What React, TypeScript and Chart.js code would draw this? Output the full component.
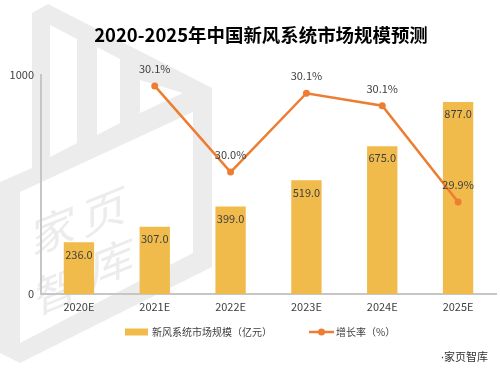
import React, { useEffect, useRef } from "react";
import { Chart, registerables } from "chart.js";

Chart.register(...registerables);

const categories = ["2020E", "2021E", "2022E", "2023E", "2024E", "2025E"];
const marketSize = [236, 307, 399, 519, 675, 877];
const growthRate = [null, 30.085, 29.967, 30.075, 30.058, 29.926];
const yTicks = [0, 1000];
const titleText = "2020-2025年中国新风系统市场规模预测";
const seriesNames = ["新风系统市场规模（亿元）", "增长率（%）"];
const sourceText = "·家页智库";
const watermarkChars = ["家", "页", "智", "库"];

const FONT = '"Noto Sans CJK SC", "Noto Sans", sans-serif';
const LATIN_FIRST = '"Noto Sans", "Noto Sans CJK SC", sans-serif';
const BAR = "#F1BB4C";
const LINE = "#ED7D31";
const WM = "#ececec";
const TXT = "#404040";

const watermarkPlugin = {
  id: "watermark",
  beforeDraw(chart: any) {
    const ctx = chart.ctx as CanvasRenderingContext2D;
    ctx.save();
    ctx.fillStyle = WM;
    const polys: number[][][] = [
      [[32, 13], [48, 4], [212, 88], [212, 267], [20, 363], [0, 353], [0, 182], [32, 168]],
      [[20, 192], [193, 112], [193, 253], [20, 343]],
      [[50, 25], [77, 39], [77, 143], [50, 157]],
      [[97, 47], [120, 59], [120, 123], [97, 135]],
      [[140, 80], [183, 93], [140, 113]],
    ];
    ctx.beginPath();
    for (const p of polys) {
      ctx.moveTo(p[0][0], p[0][1]);
      for (let i = 1; i < p.length; i++) ctx.lineTo(p[i][0], p[i][1]);
      ctx.closePath();
    }
    ctx.fill("evenodd");
    ctx.font = `44px ${FONT}`;
    ctx.textAlign = "center";
    ctx.textBaseline = "middle";
    const centers = [[54, 230], [105, 211], [57, 290], [112, 262]];
    watermarkChars.forEach((ch, i) => {
      ctx.save();
      ctx.translate(centers[i][0], centers[i][1]);
      ctx.transform(1, -0.4, 0, 1, 0, 0);
      ctx.fillText(ch, 0, 0);
      ctx.restore();
    });
    ctx.restore();
  },
};

const labelsPlugin = {
  id: "valueLabels",
  afterDatasetsDraw(chart: any) {
    const ctx = chart.ctx as CanvasRenderingContext2D;
    ctx.save();
    ctx.font = `11px ${FONT}`;
    ctx.fillStyle = TXT;
    ctx.textAlign = "center";
    ctx.textBaseline = "middle";
    const barMeta = chart.getDatasetMeta(0);
    barMeta.data.forEach((el: any, i: number) => {
      const v = marketSize[i];
      ctx.fillText(v.toFixed(1), el.x, el.y + 12);
    });
    const lineMeta = chart.getDatasetMeta(1);
    lineMeta.data.forEach((el: any, i: number) => {
      const v = growthRate[i];
      if (v == null) return;
      ctx.fillText(`${v.toFixed(1)}%`, el.x, el.y - 17);
    });
    ctx.restore();
  },
};

const decorPlugin = {
  id: "decor",
  afterDraw(chart: any) {
    const ctx = chart.ctx as CanvasRenderingContext2D;
    ctx.save();
    // title, fitted to the reference width
    ctx.fillStyle = "#000";
    ctx.font = `bold 21px ${FONT}`;
    const w = ctx.measureText(titleText).width;
    const size = Math.min(21, (21 * 334) / w);
    ctx.font = `bold ${size.toFixed(2)}px ${FONT}`;
    ctx.textAlign = "center";
    ctx.textBaseline = "middle";
    ctx.fillText(titleText, 261, 35);
    // legend
    const ly = 332;
    ctx.fillStyle = BAR;
    ctx.fillRect(125, ly - 3.5, 23, 7);
    ctx.strokeStyle = LINE;
    ctx.lineWidth = 2.5;
    ctx.beginPath();
    ctx.moveTo(309, ly);
    ctx.lineTo(334, ly);
    ctx.stroke();
    ctx.fillStyle = LINE;
    ctx.beginPath();
    ctx.arc(321.5, ly, 3.5, 0, Math.PI * 2);
    ctx.fill();
    ctx.fillStyle = TXT;
    ctx.font = `10px ${FONT}`;
    ctx.textAlign = "left";
    ctx.fillText(seriesNames[0], 152, ly);
    ctx.fillText(seriesNames[1], 336, ly);
    // source
    ctx.fillStyle = "#333";
    ctx.font = `11px ${LATIN_FIRST}`;
    ctx.textAlign = "right";
    ctx.fillText(sourceText, 488, 358);
    ctx.restore();
  },
};

export default function App() {
  const ref = useRef<HTMLCanvasElement | null>(null);
  useEffect(() => {
    if (!ref.current) return;
    const chart = new Chart(ref.current, {
      type: "bar",
      data: {
        labels: categories,
        datasets: [
          {
            type: "bar",
            label: seriesNames[0],
            data: marketSize,
            backgroundColor: BAR,
            yAxisID: "y",
            barPercentage: 0.4,
            categoryPercentage: 1,
            order: 2,
          } as any,
          {
            type: "line",
            label: seriesNames[1],
            data: growthRate,
            borderColor: LINE,
            backgroundColor: LINE,
            borderWidth: 2.5,
            pointRadius: 3.5,
            pointBackgroundColor: LINE,
            pointBorderWidth: 0,
            yAxisID: "y1",
            order: 1,
          } as any,
        ],
      },
      options: {
        responsive: false,
        animation: false,
        layout: { padding: { top: 75, right: 3, bottom: 66, left: 0 } },
        plugins: {
          legend: { display: false },
          title: { display: false },
          tooltip: { enabled: false },
        },
        scales: {
          x: {
            grid: { display: false, drawTicks: false },
            border: { display: true, color: "#c6c6c6", width: 2 },
            ticks: { font: { size: 11, family: FONT }, color: TXT, padding: 6 },
            afterFit: (s: any) => { s.height = 30; },
          },
          y: {
            position: "left",
            min: 0,
            max: 1000,
            grid: { display: false, drawTicks: false },
            border: { display: true, color: "#c6c6c6", width: 2 },
            ticks: {
              font: { size: 11, family: FONT },
              color: TXT,
              padding: 7,
              callback: (v: any) => String(v),
            },
            afterBuildTicks: (s: any) => { s.ticks = yTicks.map((v) => ({ value: v })); },
            afterFit: (s: any) => { s.width = 41; },
          },
          y1: {
            display: false,
            min: 29.8,
            max: 30.1,
          },
        },
      } as any,
      plugins: [watermarkPlugin, labelsPlugin, decorPlugin],
    });
    return () => chart.destroy();
  }, []);
  return (
    <div style={{ position: "absolute", left: 0, top: 0, width: 500, height: 390, background: "#fff" }}>
      <canvas ref={ref} width={500} height={390} style={{ display: "block" }} />
    </div>
  );
}
